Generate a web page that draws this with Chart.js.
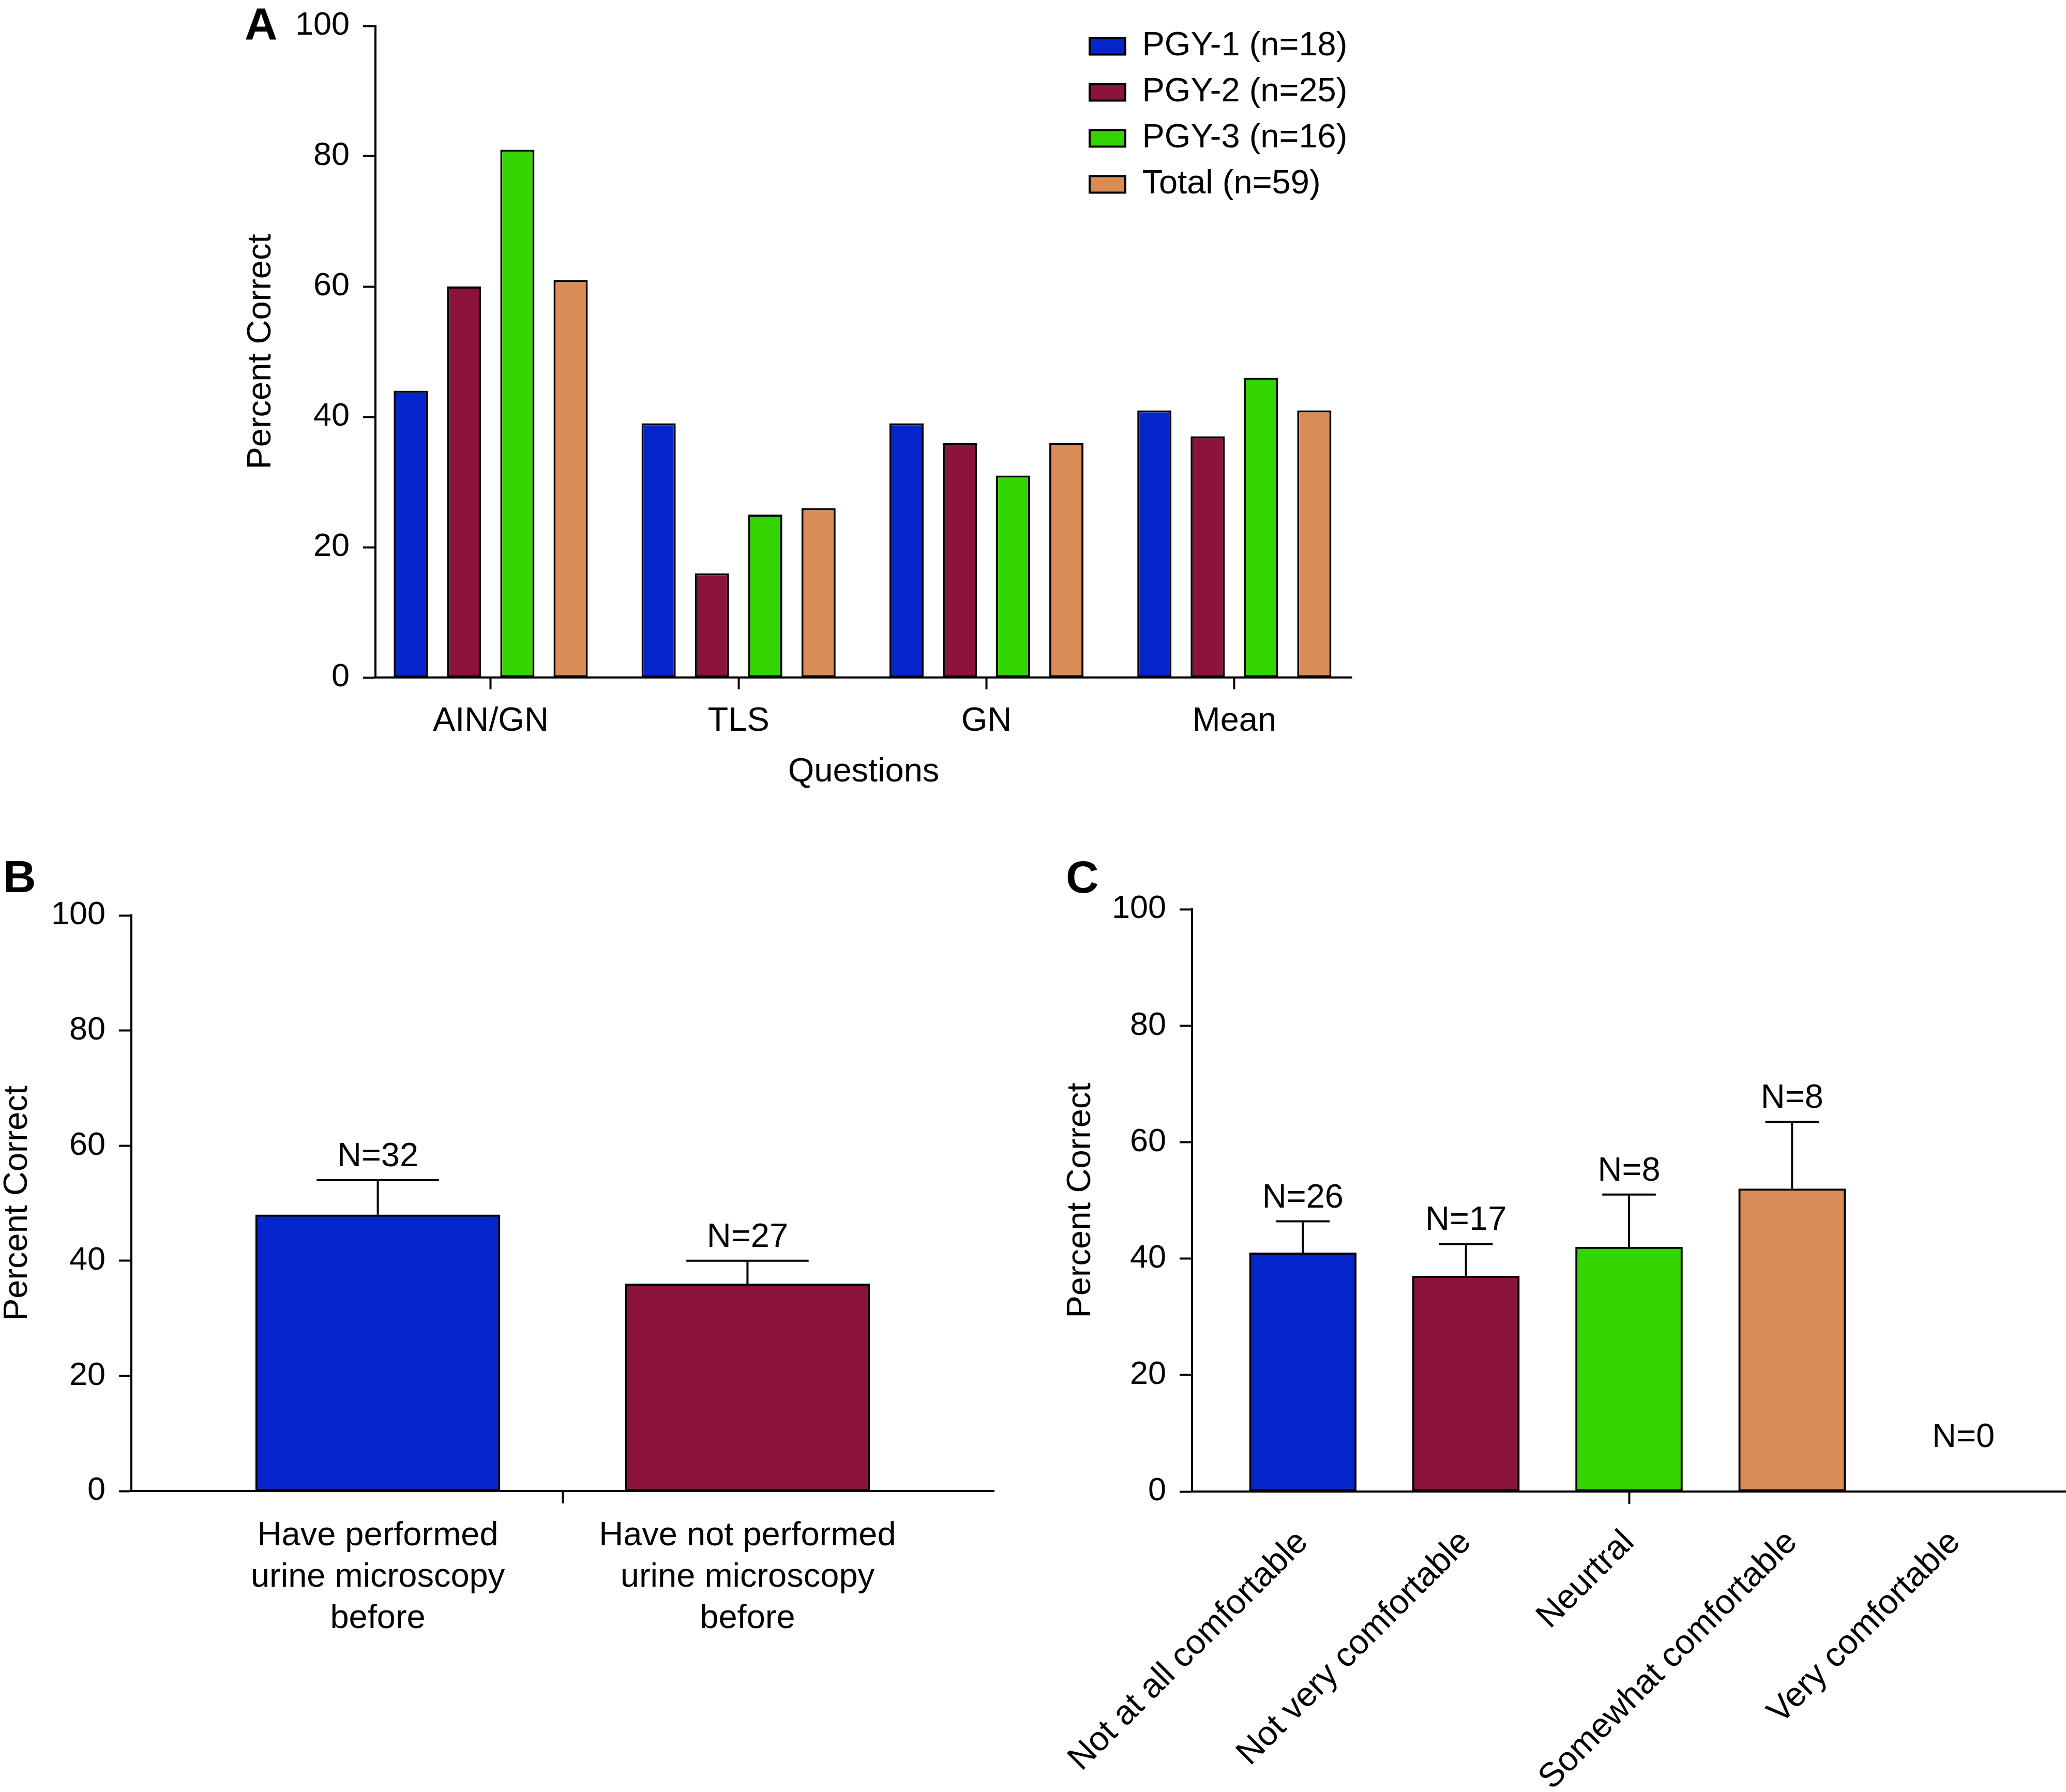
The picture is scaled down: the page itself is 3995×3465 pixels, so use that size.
<!DOCTYPE html>
<html>
<head>
<meta charset="utf-8">
<script src="https://cdn.jsdelivr.net/npm/chart.js@4.4.1/dist/chart.umd.min.js"></script>
<style>
html,body{margin:0;padding:0;background:#fff;}
#wrap{position:relative;width:3995px;height:3465px;background:#fff;overflow:hidden;}
canvas{position:absolute;}
.lbl{position:absolute;font-family:'Liberation Sans',Arial,sans-serif;font-weight:bold;font-size:88px;line-height:1;color:#000;}
</style>
</head>
<body>
<div id="wrap">
  <canvas id="cA" width="2700" height="1620" style="left:0px;top:0px;width:2700px;height:1620px"></canvas>
  <canvas id="cB" width="2000" height="1865" style="left:0px;top:1600px;width:2000px;height:1865px"></canvas>
  <canvas id="cC" width="1995" height="1865" style="left:2000px;top:1600px;width:1995px;height:1865px"></canvas>
  <div class="lbl" style="left:473px;top:2px">A</div>
  <div class="lbl" style="left:6px;top:1651px">B</div>
  <div class="lbl" style="left:2061px;top:1652px">C</div>
</div>
<script>
// ---------- DATA ----------
const questionCats = ['AIN/GN', 'TLS', 'GN', 'Mean'];
const seriesNames = ['PGY-1 (n=18)', 'PGY-2 (n=25)', 'PGY-3 (n=16)', 'Total (n=59)'];
const pgy1Values = [44, 39, 39, 41];
const pgy2Values = [60, 16, 36, 37];
const pgy3Values = [81, 25, 31, 46];
const totalValues = [61, 26, 36, 41];

const microCats = [
  ['Have performed', 'urine microscopy', 'before'],
  ['Have not performed', 'urine microscopy', 'before']
];
const microValues = [48, 36];
const microErrTop = [54, 40];
const microN = ['N=32', 'N=27'];

const comfortCats = ['Not at all comfortable', 'Not very comfortable', 'Neurtral', 'Somewhat comfortable', 'Very comfortable'];
const comfortValues = [41, 37, 42, 52, null];
const comfortErrTop = [46.4, 42.5, 51, 63.5, null];
const comfortN = ['N=26', 'N=17', 'N=8', 'N=8', 'N=0'];

const yTicks = [0, 20, 40, 60, 80, 100];

// ---------- STYLE ----------
const FONT = "'Liberation Sans', Arial, sans-serif";
const BLUE = '#0526CC', MAROON = '#8C133B', GREEN = '#33D400', ORANGE = '#D98D55';
Chart.defaults.font.family = FONT;
Chart.defaults.color = '#000';

function makeErrorPlugin(tops, labels) {
  return {
    id: 'errorBars',
    afterDatasetsDraw(chart) {
      const meta = chart.getDatasetMeta(0);
      const ys = chart.scales.y;
      const ctx = chart.ctx;
      ctx.save();
      ctx.strokeStyle = '#000';
      ctx.lineWidth = 4;
      ctx.fillStyle = '#000';
      ctx.font = '65px ' + FONT;
      ctx.textAlign = 'center';
      ctx.textBaseline = 'alphabetic';
      meta.data.forEach((bar, i) => {
        const top = tops[i];
        let labelY;
        if (top != null) {
          const yt = ys.getPixelForValue(top);
          const half = bar.width / 4;
          ctx.beginPath();
          ctx.moveTo(bar.x, bar.y);
          ctx.lineTo(bar.x, yt);
          ctx.moveTo(bar.x - half, yt);
          ctx.lineTo(bar.x + half, yt);
          ctx.stroke();
          labelY = yt - 27;
        } else {
          labelY = ys.getPixelForValue(0) - 86;
        }
        if (labels[i]) ctx.fillText(labels[i], bar.x + (top == null ? 16 : 0), labelY);
      });
      ctx.restore();
    }
  };
}

const legendMover = {
  id: 'legendMover',
  afterLayout(chart) {
    const lg = chart.legend;
    if (!lg) return;
    const w = lg.width, h = lg.height;
    lg.left = 2083; lg.top = 33;
    lg.right = lg.left + w; lg.bottom = lg.top + h;
  }
};

function yAxis(width) {
  return {
    type: 'linear', min: 0, max: 100,
    afterBuildTicks(s) { s.ticks = yTicks.map(v => ({ value: v })); },
    ticks: { padding: 26, font: { size: 63 }, color: '#000' },
    grid: { display: true, drawOnChartArea: false, drawTicks: true, tickLength: 24, tickWidth: 4, tickColor: '#000' },
    border: { display: true, color: '#000', width: 4 },
    title: { display: true, text: 'Percent Correct', font: { size: 65, lineHeight: 1 }, padding: 0, color: '#000' },
    afterFit(s) { s.width = width; s.paddingTop = 0; s.paddingBottom = 0; }
  };
}

function barDataset(label, values, color) {
  return {
    label: label,
    data: values.map((v, i) => ({ x: i + 1, y: v })),
    backgroundColor: color,
    borderColor: '#000',
    borderWidth: 4,
    borderSkipped: false
  };
}

// ---------- PANEL A ----------
new Chart(document.getElementById('cA'), {
  type: 'bar',
  data: {
    datasets: [
      barDataset(seriesNames[0], pgy1Values, BLUE),
      barDataset(seriesNames[1], pgy2Values, MAROON),
      barDataset(seriesNames[2], pgy3Values, GREEN),
      barDataset(seriesNames[3], totalValues, ORANGE)
    ].map(d => Object.assign(d, { categoryPercentage: 0.86, barPercentage: 0.641 }))
  },
  options: {
    responsive: false, animation: false,
    layout: { padding: { left: 473, top: 50, right: 86, bottom: 0 } },
    plugins: {
      legend: {
        display: true, position: 'chartArea', align: 'start',
        labels: { boxWidth: 69, boxHeight: 32, padding: 24, font: { size: 65 }, color: '#000' }
      },
      tooltip: { enabled: false }
    },
    scales: {
      x: {
        type: 'linear', min: 0.535, max: 4.474, offset: false, bounds: 'data',
        afterBuildTicks(s) { s.ticks = questionCats.map((c, i) => ({ value: i + 1 })); },
        ticks: { autoSkip: false, minRotation: 0, maxRotation: 0, padding: 23, font: { size: 65 }, color: '#000',
                 callback: v => questionCats[v - 1] || '' },
        grid: { display: true, offset: false, drawOnChartArea: false, tickLength: 23, tickWidth: 4, tickColor: '#000' },
        border: { display: true, color: '#000', width: 4 },
        title: { display: true, text: 'Questions', font: { size: 65, lineHeight: 1.2 }, padding: { top: 0, bottom: 88 }, color: '#000' },
        afterFit(s) { s.height = 310; s.paddingLeft = 0; s.paddingRight = 0; }
      },
      y: yAxis(253)
    }
  },
  plugins: [legendMover]
});

// ---------- PANEL B ----------
new Chart(document.getElementById('cB'), {
  type: 'bar',
  data: {
    datasets: [Object.assign(barDataset('Percent Correct', microValues, [BLUE, MAROON]), { barThickness: 473 })]
  },
  options: {
    responsive: false, animation: false,
    layout: { padding: { left: 2, top: 170, right: 78, bottom: 0 } },
    plugins: { legend: { display: false }, tooltip: { enabled: false } },
    scales: {
      x: {
        type: 'linear', min: 1 / 3, max: 8 / 3, offset: false, bounds: 'data',
        afterBuildTicks(s) { s.ticks = [{ value: 1 }, { value: 1.5 }, { value: 2 }]; },
        ticks: { autoSkip: false, minRotation: 0, maxRotation: 0, padding: 23, font: { size: 65, lineHeight: 1.23 }, color: '#000',
                 callback: v => (v === 1 ? microCats[0] : v === 2 ? microCats[1] : '') },
        grid: { display: true, offset: false, drawOnChartArea: false, tickLength: 24, tickWidth: 4,
                tickColor: c => (c.tick && c.tick.value === 1.5 ? '#000' : 'rgba(0,0,0,0)') },
        border: { display: true, color: '#000', width: 4 },
        afterFit(s) { s.height = 582; s.paddingLeft = 0; s.paddingRight = 0; }
      },
      y: yAxis(252)
    }
  },
  plugins: [makeErrorPlugin(microErrTop, microN)]
});

// ---------- PANEL C ----------
new Chart(document.getElementById('cC'), {
  type: 'bar',
  data: {
    datasets: [Object.assign(barDataset('Percent Correct', comfortValues, [BLUE, MAROON, GREEN, ORANGE, '#fff']), { barThickness: 207 })]
  },
  options: {
    responsive: false, animation: false,
    layout: { padding: { left: 58, top: 158, right: 0, bottom: 0 } },
    plugins: { legend: { display: false }, tooltip: { enabled: false } },
    scales: {
      x: {
        type: 'linear', min: 0.32, max: 5.68, offset: false, bounds: 'data',
        afterBuildTicks(s) { s.ticks = comfortCats.map((c, i) => ({ value: i + 1 })); },
        ticks: { autoSkip: false, minRotation: 45, maxRotation: 45, padding: 36, font: { size: 66 }, color: '#000',
                 callback: v => comfortCats[v - 1] || '' },
        grid: { display: true, offset: false, drawOnChartArea: false, tickLength: 24, tickWidth: 4,
                tickColor: c => (c.tick && c.tick.value === 3 ? '#000' : 'rgba(0,0,0,0)') },
        border: { display: true, color: '#000', width: 4 },
        afterFit(s) { s.height = 581; s.paddingLeft = 0; s.paddingRight = 0; }
      },
      y: yAxis(247)
    }
  },
  plugins: [makeErrorPlugin(comfortErrTop, comfortN)]
});
</script>
</body>
</html>
